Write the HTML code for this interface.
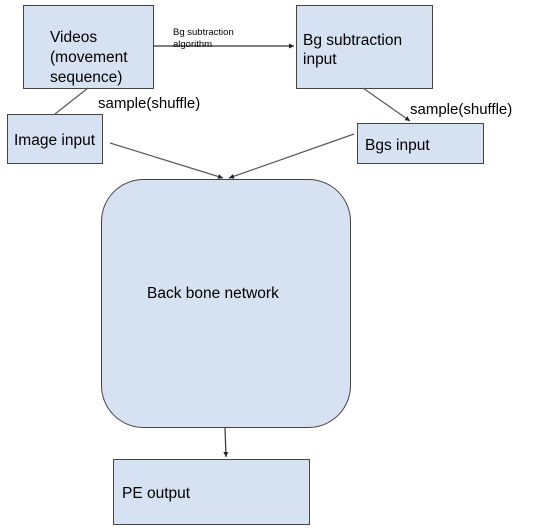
<!DOCTYPE html>
<html><head><style>
html,body{margin:0;padding:0;background:#fff;width:546px;height:530px;overflow:hidden}
svg{display:block}
text{font-family:"Liberation Sans",Arial,sans-serif;fill:#000}
</style></head><body>
<svg width="546" height="530" viewBox="0 0 546 530">
<defs><marker id="a" markerWidth="6" markerHeight="6" refX="5" refY="3" orient="auto" markerUnits="userSpaceOnUse"><path d="M0,0.5 L5,3 L0,5.5 z" fill="#222"/></marker></defs>
<g fill="#d6e1f1" stroke="#444" stroke-width="1">
<rect x="23.5" y="5.5" width="130" height="83"/>
<rect x="296.5" y="5.5" width="136" height="83"/>
<rect x="7.5" y="114.5" width="95" height="49"/>
<rect x="357.5" y="123.5" width="126" height="40"/>
<rect x="101.5" y="179.5" width="249" height="248" rx="42" ry="42"/>
<rect x="113.5" y="459.5" width="196" height="65"/>
</g>
<g stroke="#595959" stroke-width="1.2" fill="none">
<line x1="153" y1="46" x2="294" y2="46" marker-end="url(#a)" stroke="#333"/>
<line x1="88" y1="88" x2="55" y2="114"/>
<line x1="363" y1="88" x2="410" y2="121" marker-end="url(#a)"/>
<line x1="110" y1="143" x2="223" y2="178" marker-end="url(#a)"/>
<line x1="354" y1="134" x2="229" y2="178" marker-end="url(#a)"/>
<line x1="225" y1="428" x2="226" y2="457" marker-end="url(#a)" stroke="#333"/>
</g>
<text x="50" y="42" font-size="15.5">Videos</text>
<text x="50" y="62" font-size="15.5">(movement</text>
<text x="50" y="82" font-size="15.5">sequence)</text>
<text x="173" y="35" font-size="9.5">Bg subtraction</text>
<text x="173" y="47" font-size="9.5">algorithm</text>
<text x="303" y="45" font-size="15.5">Bg subtraction</text>
<text x="303" y="64" font-size="15.5">input</text>
<text x="98" y="108" font-size="15">sample(shuffle)</text>
<text x="410" y="114" font-size="15">sample(shuffle)</text>
<text x="14" y="145" font-size="15.5">Image input</text>
<text x="365" y="150" font-size="15.5">Bgs input</text>
<text x="147" y="298" font-size="15.5">Back bone network</text>
<text x="122" y="498" font-size="15.5">PE output</text>
</svg>
</body></html>
